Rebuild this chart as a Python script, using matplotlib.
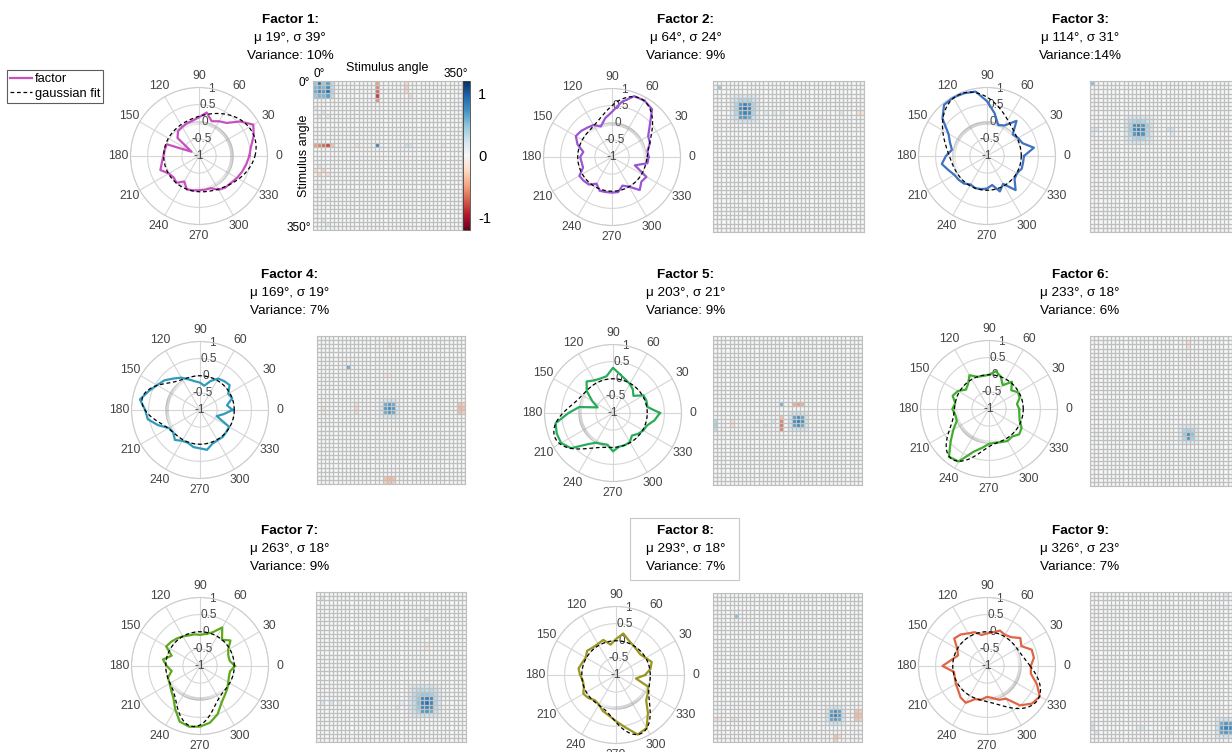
import numpy as np
import matplotlib.pyplot as plt
from matplotlib.lines import Line2D
from matplotlib.patches import Rectangle

plt.rcParams['font.family'] = ['Liberation Sans', 'DejaVu Sans']
plt.rcParams['axes.unicode_minus'] = False

W, H = 1232, 752

ANGLES = list(range(0, 360, 10))

MU = [19, 64, 114, 169, 203, 233, 263, 293, 326]
SIGMA = [39, 24, 31, 19, 21, 18, 18, 18, 23]
VAR_TXT = ["Variance: 10%", "Variance: 9%", "Variance:14%",
           "Variance: 7%", "Variance: 9%", "Variance: 6%",
           "Variance: 9%", "Variance: 7%", "Variance: 7%"]
FIT_AMP = [0.68, 0.9, 0.97, 0.72, 0.84, 0.82, 0.78, 0.86, 0.78]
FIT_BASE = [0.03, 0.0, 0.0, 0.0, 0.0, 0.0, 0.0, 0.0, 0.0]
COLORS = ['#c94fc0', '#9a55d4', '#3f72c0', '#2f9bbb', '#27ad5a',
          '#3fae2c', '#5ea81c', '#9a9620', '#e06543']

# factor loadings, 0..350 deg in 10 deg steps
F1 = [0.47, 0.54, 0.7, 0.83, 0.57, 0.26, 0.17, 0.08, 0.29, 0.13, 0.05, 0.02,
      -0.02, -0.05, -0.18, -0.75, 0.0, 0.02, 0.04, 0.1, 0.2, 0.02, -0.03, 0.02,
      -0.14, 0.04, 0.02, 0.0, 0.0, 0.0, 0.14, 0.2, 0.22, 0.28, 0.34, 0.4]
F2 = [0.07, 0.05, 0.18, 0.22, 0.44, 0.82, 0.9, 0.89, 0.63, 0.32, 0.15, -0.05,
      0.08, 0.12, 0.18, 0.22, 0.07, -0.15, -0.07, -0.1, -0.1, 0.1, 0.08, 0.05,
      -0.1, 0.05, 0.04, 0.04, 0.04, -0.11, 0.0, 0.26, 0.12, 0.16, -0.29, 0.05]
F3 = [0.08, 0.39, 0.1, 0.05, -0.02, 0.34, 0.03, -0.04, 0.27, 0.6, 0.91, 0.95,
      0.97, 0.95, 0.7, 0.3, 0.15, 0.04, 0.2, 0.34, 0.2, 0.1, 0.08, 0.05,
      -0.04, 0.0, -0.02, -0.05, -0.14, 0.1, -0.06, 0.3, 0.05, 0.01, 0.08, 0.07]
F4 = [-0.05, -0.2, 0.0, -0.05, 0.13, 0.1, 0.06, -0.1, -0.28, -0.2, -0.15, -0.05,
      0.09, 0.2, 0.35, 0.45, 0.6, 0.78, 0.6, 0.55, 0.3, 0.05, 0.02, 0.14,
      0.04, 0.02, 0.1, 0.12, 0.18, 0.05, 0.02, 0.03, 0.0, -0.02, -0.48, -0.3]
F5 = [0.37, 0.02, 0.04, 0.03, -0.22, -0.1, -0.02, 0.05, 0.15, 0.32, 0.09, 0.07,
      0.1, 0.2, 0.0, -0.3, -0.52, 0.0, 0.3, 0.7, 0.75, 0.75, 0.6, 0.2,
      0.0, -0.04, -0.06, 0.12, 0.0, 0.0, -0.02, -0.14, -0.05, 0.02, 0.06, 0.23]
F6 = [-0.12, -0.17, -0.05, -0.02, -0.15, 0.04, -0.2, 0.01, 0.12, 0.0, -0.02, 0.0,
      0.14, -0.05, -0.12, 0.05, 0.13, 0.0, 0.07, 0.0, 0.0, 0.2, 0.46, 0.82,
      0.77, 0.33, 0.15, 0.02, 0.0, 0.03, 0.08, 0.05, 0.15, 0.1, -0.05, -0.1]
F7 = [0.02, -0.12, -0.12, -0.05, 0.16, 0.0, 0.3, 0.04, -0.05, -0.09, -0.06, -0.05,
      0.0, 0.05, 0.1, 0.14, -0.12, 0.1, -0.03, -0.16, 0.0, 0.02, 0.1, 0.21,
      0.45, 0.73, 0.8, 0.77, 0.68, 0.5, 0.25, 0.12, 0.04, -0.05, -0.1, -0.11]
F8 = [-0.15, 0.02, 0.11, 0.0, -0.07, -0.05, 0.0, 0.08, 0.23, 0.05, -0.1, 0.09,
      0.05, 0.05, 0.1, 0.02, 0.05, 0.11, 0.05, -0.02, 0.0, 0.1, 0.05, -0.04,
      0.0, 0.12, 0.2, 0.35, 0.55, 0.85, 0.79, 0.45, 0.15, 0.07, 0.0, -0.41]
F9 = [0.28, 0.39, 0.39, 0.16, 0.27, 0.1, 0.05, 0.1, 0.0, -0.05, -0.08, 0.05,
      0.1, 0.2, 0.25, 0.0, -0.1, 0.05, 0.3, -0.02, 0.0, 0.05, 0.1, 0.2,
      0.24, 0.03, 0.0, -0.1, -0.05, 0.05, 0.1, 0.5, 0.71, 0.78, 0.55, 0.3]
FACTORS = [F1, F2, F3, F4, F5, F6, F7, F8, F9]

# stimulus x stimulus maps: dense patch (row0, col0, values) + single cells
P1 = (0, 0, [[0.45, 0.9, 0.45, 0.65, 0.3],
             [0.55, 0.65, 0.55, 0.75, 0.3],
             [0.6, 0.8, 0.7, 0.9, 0.35],
             [0.45, 0.55, 0.55, 0.65, 0.3]])
S1 = [(0, 15, -0.5), (1, 15, -0.6), (2, 15, -0.7), (3, 15, -0.85), (4, 15, -0.55),
      (15, 0, -0.5), (15, 1, -0.6), (15, 2, -0.7), (15, 3, -0.8), (15, 4, -0.35),
      (15, 15, 0.8), (0, 22, -0.25), (1, 22, -0.3), (2, 22, -0.25), (3, 23, -0.25),
      (21, 0, -0.2), (21, 2, -0.25), (22, 1, -0.25), (22, 3, -0.2), (15, 22, 0.25),
      (15, 23, 0.2), (20, 1, 0.2), (8, 1, 0.2), (8, 3, 0.15), (33, 2, 0.2),
      (34, 3, 0.2), (15, 10, -0.15), (15, 31, -0.12), (6, 0, 0.15), (7, 2, 0.15),
      (25, 1, 0.15), (28, 3, 0.12)]
P2 = (3, 4, [[0.1, 0.15, 0.2, 0.2, 0.2, 0.15, 0.1],
             [0.15, 0.25, 0.35, 0.35, 0.35, 0.25, 0.15],
             [0.15, 0.35, 0.7, 0.8, 0.7, 0.35, 0.2],
             [0.2, 0.35, 0.8, 0.9, 0.8, 0.35, 0.2],
             [0.15, 0.35, 0.7, 0.8, 0.75, 0.35, 0.15],
             [0.15, 0.25, 0.7, 0.7, 0.6, 0.25, 0.15],
             [0.1, 0.15, 0.2, 0.25, 0.2, 0.15, 0.1]])
S2 = [(1, 1, 0.45), (7, 12, 0.15), (7, 14, 0.15), (7, 16, 0.15), (7, 30, 0.2),
      (7, 34, -0.2), (7, 35, -0.15), (22, 7, 0.15), (26, 7, 0.15), (30, 7, 0.15),
      (31, 8, 0.12), (8, 25, -0.1)]
P3 = (8, 8, [[0.1, 0.15, 0.2, 0.2, 0.2, 0.15, 0.1],
             [0.15, 0.3, 0.35, 0.4, 0.35, 0.25, 0.15],
             [0.2, 0.35, 0.75, 0.8, 0.7, 0.4, 0.2],
             [0.2, 0.4, 0.8, 0.85, 0.8, 0.35, 0.2],
             [0.15, 0.35, 0.7, 0.8, 0.7, 0.35, 0.15],
             [0.15, 0.25, 0.35, 0.4, 0.35, 0.25, 0.15],
             [0.1, 0.15, 0.2, 0.2, 0.15, 0.15, 0.1]])
S3 = [(0, 0, 0.5), (11, 0, 0.2), (11, 1, 0.2), (12, 0, 0.15), (11, 18, 0.2),
      (11, 19, 0.2), (12, 19, 0.15), (11, 27, 0.12), (11, 32, -0.1)]
P4 = (15, 15, [[0.1, 0.15, 0.2, 0.15, 0.1],
               [0.15, 0.6, 0.7, 0.6, 0.15],
               [0.2, 0.7, 0.8, 0.7, 0.2],
               [0.15, 0.6, 0.7, 0.6, 0.15],
               [0.1, 0.15, 0.2, 0.15, 0.1]])
S4 = [(16, 34, -0.35), (17, 34, -0.4), (18, 34, -0.35), (16, 35, -0.3), (17, 35, -0.35),
      (18, 35, -0.3), (34, 16, -0.35), (34, 17, -0.4), (34, 18, -0.35),
      (35, 16, -0.3), (35, 17, -0.35), (35, 18, -0.3), (16, 9, -0.2),
      (17, 9, -0.25), (18, 9, -0.2), (17, 1, -0.15), (18, 1, -0.12), (7, 7, 0.6),
      (1, 17, -0.15), (2, 17, -0.15), (9, 16, -0.12), (9, 17, -0.12)]
P5 = (18, 18, [[0.15, 0.2, 0.25, 0.2, 0.15],
               [0.2, 0.65, 0.75, 0.65, 0.2],
               [0.25, 0.75, 0.85, 0.75, 0.25],
               [0.2, 0.65, 0.75, 0.6, 0.2],
               [0.15, 0.2, 0.25, 0.2, 0.15]])
S5 = [(20, 16, -0.6), (21, 16, -0.65), (22, 16, -0.6), (19, 16, -0.35),
      (16, 19, -0.45), (16, 20, -0.5), (16, 21, -0.45), (16, 16, 0.55),
      (20, 0, 0.35), (21, 0, 0.4), (22, 0, 0.3), (20, 4, -0.2), (21, 4, -0.2),
      (20, 10, 0.15), (21, 12, 0.15), (20, 14, 0.15), (0, 20, 0.15), (1, 20, 0.12),
      (33, 20, 0.12)]
P6 = (21, 21, [[0.1, 0.15, 0.15, 0.15, 0.1],
               [0.15, 0.35, 0.4, 0.35, 0.15],
               [0.15, 0.45, 0.75, 0.5, 0.15],
               [0.15, 0.35, 0.7, 0.4, 0.15],
               [0.1, 0.15, 0.15, 0.15, 0.1]])
S6 = [(1, 23, -0.2), (2, 23, -0.2), (4, 23, -0.12), (12, 22, 0.1),
      (23, 1, 0.1), (23, 12, 0.1)]
P7 = (22, 22, [[0.1, 0.15, 0.2, 0.2, 0.2, 0.2, 0.15, 0.1],
               [0.15, 0.25, 0.3, 0.3, 0.3, 0.3, 0.25, 0.15],
               [0.15, 0.3, 0.4, 0.45, 0.45, 0.4, 0.3, 0.15],
               [0.2, 0.3, 0.45, 0.8, 0.85, 0.8, 0.3, 0.2],
               [0.2, 0.3, 0.5, 0.85, 0.9, 0.8, 0.35, 0.2],
               [0.2, 0.3, 0.45, 0.8, 0.8, 0.75, 0.3, 0.2],
               [0.15, 0.25, 0.35, 0.7, 0.7, 0.6, 0.25, 0.15],
               [0.1, 0.15, 0.2, 0.25, 0.25, 0.2, 0.15, 0.1]])
S7 = [(1, 1, 0.2), (6, 26, 0.25), (12, 26, -0.15), (13, 26, -0.12),
      (26, 1, 0.2), (26, 3, 0.2), (26, 5, 0.15), (27, 19, 0.15), (26, 20, 0.12),
      (26, 12, 0.1)]
P8 = (27, 27, [[0.1, 0.2, 0.25, 0.2, 0.1],
               [0.2, 0.65, 0.75, 0.65, 0.2],
               [0.25, 0.75, 0.85, 0.7, 0.25],
               [0.2, 0.65, 0.7, 0.6, 0.2],
               [0.1, 0.2, 0.25, 0.2, 0.1]])
S8 = [(28, 34, -0.35), (29, 34, -0.4), (30, 34, -0.35), (28, 35, -0.3),
      (29, 35, -0.35), (30, 35, -0.3), (34, 29, -0.35), (35, 29, -0.3),
      (34, 30, -0.25), (5, 5, 0.5), (30, 0, -0.2), (30, 1, -0.15), (30, 4, -0.2),
      (30, 5, -0.15), (30, 16, 0.12)]
P9 = (30, 30, [[0.15, 0.2, 0.25, 0.2, 0.15],
               [0.2, 0.6, 0.7, 0.65, 0.2],
               [0.25, 0.7, 0.8, 0.75, 0.25],
               [0.2, 0.65, 0.7, 0.6, 0.2],
               [0.15, 0.2, 0.25, 0.2, 0.15]])
S9 = [(31, 0, 0.2), (32, 0, 0.25), (33, 1, 0.2), (32, 11, 0.15), (32, 12, 0.15),
      (32, 18, 0.15), (33, 19, 0.15), (0, 32, 0.15), (1, 32, 0.12), (3, 32, 0.1)]
PATCHES = [P1, P2, P3, P4, P5, P6, P7, P8, P9]
SPOTS = [S1, S2, S3, S4, S5, S6, S7, S8, S9]

THETA_LABELS = [str(a) for a in range(0, 360, 30)]

# layout (pixels)
POLAR_C = [(199, 156), (612, 157), (987, 156),
           (200, 410), (613, 413), (989, 409),
           (200, 666), (616, 675), (987, 666)]
R_PX = 68.5
HM_BOX = [(313, 81, 149), (713, 81, 151), (1090, 81, 151),
          (317, 336, 148), (713, 336, 149), (1090, 336, 150),
          (316, 592, 150), (713, 593, 149), (1090, 592, 150)]
TITLE_X = [290, 686, 1080]
TITLE_Y = [20, 275, 531]

fig = plt.figure(figsize=(W / 100, H / 100), dpi=100)


def px_axes(x, y, w, h, **kw):
    return fig.add_axes([x / W, 1 - (y + h) / H, w / W, h / H], **kw)


def build_map(patch, spots):
    m = np.zeros((36, 36))
    r0, c0, vals = patch
    vals = np.array(vals)
    m[r0:r0 + vals.shape[0], c0:c0 + vals.shape[1]] = vals
    for r, c, v in spots:
        m[r, c] = v
    return m


for i in range(9):
    cx, cy = POLAR_C[i]
    ax = px_axes(cx - R_PX, cy - R_PX, 2 * R_PX, 2 * R_PX, projection='polar')
    ax.set_ylim(-1, 1)
    ax.set_yticks([-1, -0.5, 0, 0.5, 1])
    ax.set_yticklabels(['-1', '-0.5', '0', '0.5', '1'], va='center', ha='center')
    ax.set_rlabel_position(80)
    ax.set_thetagrids(range(0, 360, 30), THETA_LABELS)
    ax.grid(color='#d6d6d6', lw=0.8)
    ax.spines['polar'].set_color('#cccccc')
    ax.spines['polar'].set_linewidth(0.8)
    ax.tick_params(axis='x', labelsize=8.7, colors='#444444', pad=-2)
    ax.tick_params(axis='y', labelsize=8.5, colors='#444444', pad=0)

    # gray arc marking the fitted range
    mu, sg = MU[i], SIGMA[i]
    arc = np.linspace(mu - 3 * sg, mu + 3 * sg, 60)
    for a0, a1 in zip(arc[:-1], arc[1:]):
        d = (a0 + a1) / 2 - mu
        al = 0.42 * np.exp(-d ** 2 / (2 * (1.6 * sg) ** 2))
        ax.plot(np.deg2rad([a0, a1]), [-0.04, -0.04], color='#909090',
                lw=2.4, alpha=al, solid_capstyle='butt')

    th = np.deg2rad(ANGLES + [360])
    vals = FACTORS[i] + [FACTORS[i][0]]
    ax.plot(th, vals, color=COLORS[i], lw=1.6, zorder=3)

    tt = np.arange(0, 361, 2)
    dd = (tt - mu + 180) % 360 - 180
    fit = FIT_BASE[i] + FIT_AMP[i] * np.exp(-dd ** 2 / (2 * sg ** 2))
    ax.plot(np.deg2rad(tt), fit, color='black', ls=(0, (3, 2.2)), lw=0.9, zorder=4)

    # heatmap: coloured cells, then a light grey grid on top
    hx, hy, hs = HM_BOX[i]
    hax = px_axes(hx, hy, hs, hs)
    mat = build_map(PATCHES[i], SPOTS[i])
    mesh = hax.pcolormesh(np.arange(37), np.arange(37), mat, cmap='RdBu',
                          vmin=-1.2, vmax=1.2, edgecolors='none', antialiased=False)
    hax.hlines(np.arange(37), 0, 36, color='#bfbfbf', lw=0.95)
    hax.vlines(np.arange(37), 0, 36, color='#bfbfbf', lw=0.95)
    hax.set_xlim(0, 36)
    hax.set_ylim(36, 0)
    hax.set_xticks([])
    hax.set_yticks([])
    for s in hax.spines.values():
        s.set_color('#bfbfbf')

    if i == 0:
        hax.text(0.5, 1.085, 'Stimulus angle', transform=hax.transAxes,
                 ha='center', va='center', fontsize=9)
        hax.text(0.04, 1.045, '0°', transform=hax.transAxes,
                 ha='center', va='center', fontsize=8.5)
        hax.text(0.96, 1.045, '350°', transform=hax.transAxes,
                 ha='center', va='center', fontsize=8.5)
        hax.text(-0.02, 0.985, '0°', transform=hax.transAxes,
                 ha='right', va='center', fontsize=8.5)
        hax.text(-0.01, 0.015, '350°', transform=hax.transAxes,
                 ha='right', va='center', fontsize=8.5)
        hax.text(-0.06, 0.5, 'Stimulus angle', transform=hax.transAxes,
                 ha='center', va='center', rotation=90, fontsize=9)
        cax = px_axes(hx + hs + 1, hy, 7, hs)
        cb = fig.colorbar(mesh, cax=cax, ticks=[-1, 0, 1])
        cb.ax.tick_params(labelsize=10.5, length=0, pad=6)
        cb.outline.set_edgecolor('#444444')
        cb.outline.set_linewidth(0.6)

    # title
    tx = TITLE_X[i % 3]
    ty = TITLE_Y[i // 3]
    fig.text(tx / W, 1 - ty / H, f'Factor {i + 1}:', ha='center', va='center',
             fontsize=9.7, fontweight='bold')
    fig.text(tx / W, 1 - (ty + 18) / H, f'μ {MU[i]}°, σ {SIGMA[i]}°',
             ha='center', va='center', fontsize=9.7)
    fig.text(tx / W, 1 - (ty + 36) / H, VAR_TXT[i],
             ha='center', va='center', fontsize=9.7)

# box around the factor 8 title
fig.add_artist(Rectangle((630 / W, 1 - 580 / H), 109 / W, 62 / H,
                         transform=fig.transFigure, fill=False,
                         edgecolor='#c8c8c8', lw=0.8))

handles = [Line2D([], [], color=COLORS[0], lw=1.6, label='factor'),
           Line2D([], [], color='black', lw=0.9, ls=(0, (3, 2.2)), label='gaussian fit')]
leg = fig.legend(handles=handles, loc='upper left', bbox_to_anchor=(7 / W, 1 - 70 / H),
                 frameon=True, fancybox=False, edgecolor='#333333', fontsize=9.3,
                 handlelength=1.7, handletextpad=0.2, borderpad=0.25,
                 borderaxespad=0, labelspacing=0.2)
leg.get_frame().set_linewidth(0.8)

fig.savefig('out.png', dpi=100)
